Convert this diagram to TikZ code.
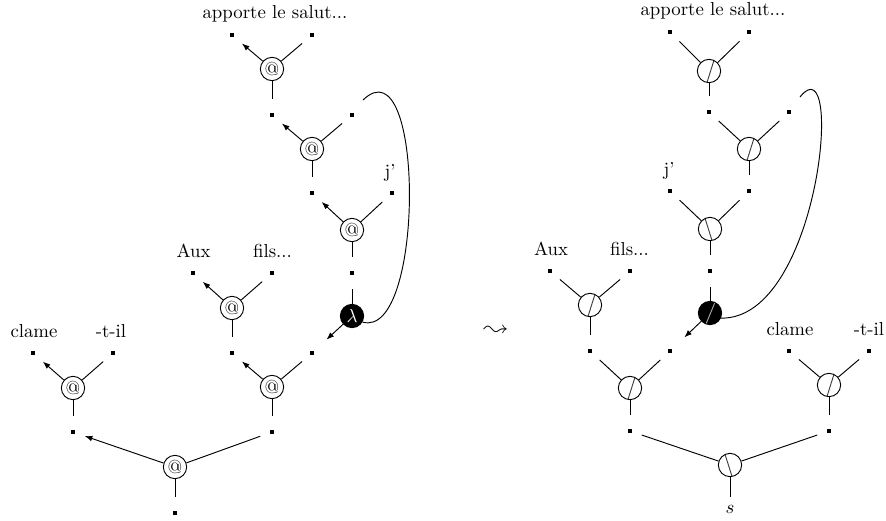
\documentclass[tikz,border=0pt]{standalone}
\usepackage{latexsym}
\usetikzlibrary{arrows.meta}
\begin{document}
\begin{tikzpicture}[x=0.532pt,y=-0.532pt,
  app/.style={circle,draw,line width=0.5pt,minimum size=12.4pt,inner sep=0pt},
  lamn/.style={circle,draw,fill=black,text=white,line width=0.5pt,minimum size=12.4pt,inner sep=0pt},
  slashn/.style={circle,draw,line width=0.5pt,minimum size=12.4pt,inner sep=0pt,
    path picture={\draw[black!75,line width=0.5pt] ([shift={(-100:6.2pt)}]path picture bounding box.center) -- ([shift={(65:6.2pt)}]path picture bounding box.center);}},
  bslashn/.style={circle,draw,line width=0.5pt,minimum size=12.4pt,inner sep=0pt,
    path picture={\draw[black!75,line width=0.5pt] ([shift={(115:6.2pt)}]path picture bounding box.center) -- ([shift={(-80:6.2pt)}]path picture bounding box.center);}},
  blackslashn/.style={circle,draw,fill=black,line width=0.5pt,minimum size=12.4pt,inner sep=0pt,
    path picture={\draw[black!35,line width=0.5pt] ([shift={(-110:6.2pt)}]path picture bounding box.center) -- ([shift={(65:6.2pt)}]path picture bounding box.center);}},
  dotn/.style={rectangle,fill=black,minimum size=1.8pt,inner sep=0pt},
  lab/.style={anchor=base,inner sep=0pt},
  ln/.style={line width=0.5pt,shorten >=5.5pt},
  ar/.style={ln,-{Latex[length=4pt,width=3pt]}},
  stk/.style={line width=0.5pt,shorten >=7.5pt},
  lar/.style={line width=0.5pt,shorten >=9pt,-{Latex[length=4pt,width=3pt]}},
  crv/.style={line width=0.5pt}
]
\useasboundingbox (0,0) rectangle (886,520);

% ===== left tree =====
\node[dotn] (d1) at (232,35) {};
\node[dotn] (d2) at (312,35) {};
\node[dotn] (d3) at (272,115) {};
\node[dotn] (d4) at (352,115) {};
\node[dotn] (d5) at (312,193) {};
\node[dotn] (d6) at (392,193) {};
\node[dotn] (d7) at (352,273) {};
\node[dotn] (d10) at (193,273) {};
\node[dotn] (d11) at (272,273) {};
\node[dotn] (d8) at (232,353) {};
\node[dotn] (d9) at (312,353) {};
\node[dotn] (d14) at (33,353) {};
\node[dotn] (d15) at (113,353) {};
\node[dotn] (d12) at (73,432) {};
\node[dotn] (d13) at (272,432) {};
\node[dotn] (d16) at (175,513) {};

\node[app] (A1) at (272,69) {@};
\node[app] (A2) at (312,149) {@};
\node[app] (A3) at (352,230) {@};
\node[lamn] (L) at (352,316) {$\lambda$};
\node[app] (A4) at (232,308) {@};
\node[app] (A5) at (272,387) {@};
\node[app] (A6) at (73,388) {@};
\node[app] (A7) at (175,467) {@};

\node[lab] (t1) at (275,18) {apporte le salut...};
\node[lab] (t2) at (390,177) {j'};
\node[lab] (t3) at (193.5,257) {Aux};
\node[lab] (t4) at (272.5,257) {fils...};
\node[lab] (t5) at (34,337) {clame};
\node[lab] (t6) at (111,337) {-t-il};

\draw[ar] (A1) -- (d1); \draw[ln] (A1) -- (d2); \draw[stk] (A1) -- (d3);
\draw[ar] (A2) -- (d3); \draw[ln] (A2) -- (d4); \draw[stk] (A2) -- (d5);
\draw[ar] (A3) -- (d5); \draw[ln] (A3) -- (d6); \draw[stk] (A3) -- (d7);
\draw[stk] (L) -- (d7); \draw[lar] (L) -- (d9);
\draw[ar] (A4) -- (d10); \draw[ln] (A4) -- (d11); \draw[stk] (A4) -- (d8);
\draw[ar] (A5) -- (d8); \draw[ln] (A5) -- (d9); \draw[stk] (A5) -- (d13);
\draw[ar] (A6) -- (d14); \draw[ln] (A6) -- (d15); \draw[stk] (A6) -- (d12);
\draw[ar] (A7) -- (d12); \draw[ln] (A7) -- (d13); \draw[stk] (A7) -- (d16);

\coordinate (c1) at (363,100);
\draw[crv] (L.-30) .. controls (425,340) and (425,40) .. (c1);

% ===== leadsto =====
\node (lt) at (496,331) {\scalebox{1.3}{$\leadsto$}};

% ===== right tree =====
\node[dotn] (e1) at (670,32) {};
\node[dotn] (e2) at (749,32) {};
\node[dotn] (e3) at (709,112) {};
\node[dotn] (e4) at (789,112) {};
\node[dotn] (e5) at (670,191) {};
\node[dotn] (e6) at (749,191) {};
\node[dotn] (e7) at (710,271) {};
\node[dotn] (e10) at (550,271) {};
\node[dotn] (e11) at (630,271) {};
\node[dotn] (e8) at (590,351) {};
\node[dotn] (e9) at (670,351) {};
\node[dotn] (e14) at (789,351) {};
\node[dotn] (e15) at (869,351) {};
\node[dotn] (e13) at (630,431) {};
\node[dotn] (e12) at (829,431) {};

\node[slashn] (B1) at (709,71) {};
\node[slashn] (B2) at (749,149) {};
\node[bslashn] (B3) at (710,229) {};
\node[blackslashn] (K) at (710,313) {};
\node[slashn] (B4) at (590,305) {};
\node[slashn] (B5) at (630,388) {};
\node[slashn] (B6) at (829,385) {};
\node[bslashn] (B7) at (730,465) {};

\node[lab] (u1) at (713,15) {apporte le salut...};
\node[lab] (u2) at (669,175) {j'};
\node[lab] (u3) at (551,255) {Aux};
\node[lab] (u4) at (629.5,255) {fils...};
\node[lab] (u5) at (790,335) {clame};
\node[lab] (u6) at (869,335) {-t-il};
\node[lab] (s) at (730,513) {$s$};

\draw[ln] (B1) -- (e1); \draw[ln] (B1) -- (e2); \draw[stk] (B1) -- (e3);
\draw[ln] (B2) -- (e3); \draw[ln] (B2) -- (e4); \draw[stk] (B2) -- (e6);
\draw[ln] (B3) -- (e5); \draw[ln] (B3) -- (e6); \draw[stk] (B3) -- (e7);
\draw[stk] (K) -- (e7); \draw[lar] (K) -- (e9);
\draw[ln] (B4) -- (e10); \draw[ln] (B4) -- (e11); \draw[stk] (B4) -- (e8);
\draw[ln] (B5) -- (e8); \draw[ln] (B5) -- (e9); \draw[stk] (B5) -- (e13);
\draw[ln] (B6) -- (e14); \draw[ln] (B6) -- (e15); \draw[stk] (B6) -- (e12);
\draw[ln] (B7) -- (e13); \draw[ln] (B7) -- (e12);
\draw[line width=0.5pt,shorten >=4pt] (B7) -- (s);

\coordinate (c2) at (800,97);
\draw[crv] (K.-25) .. controls (820,320) and (845,40) .. (c2);
\end{tikzpicture}
\end{document}
